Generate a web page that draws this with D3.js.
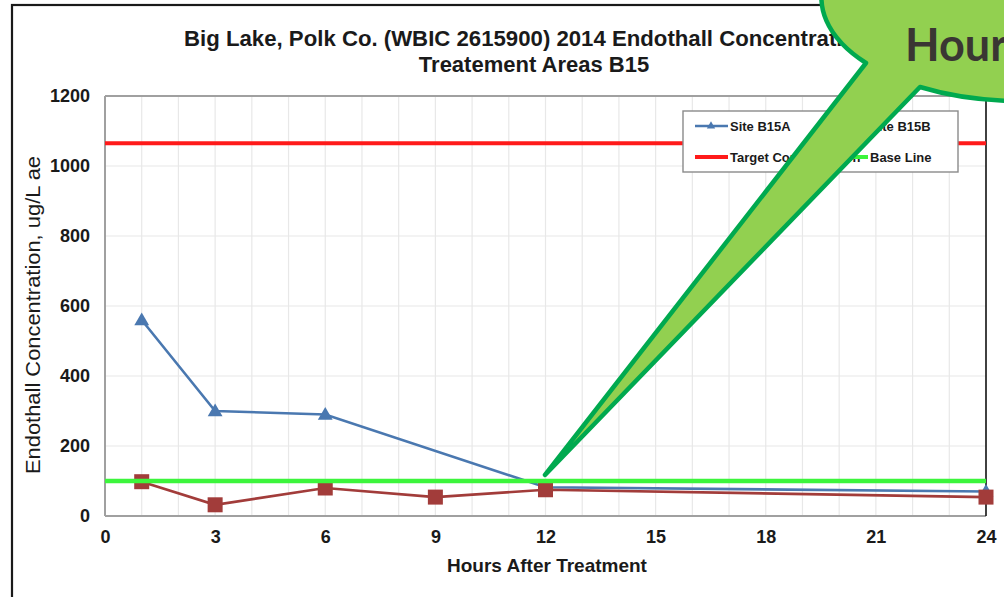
<!DOCTYPE html>
<html>
<head>
<meta charset="utf-8">
<script src="https://cdn.jsdelivr.net/npm/d3@7"></script>
<style>
  html, body { margin: 0; padding: 0; background: #fff; }
  svg { display: block; }
</style>
</head>
<body>
<svg id="chart" width="1004" height="597"></svg>
<script>
// ---- data ----
const hoursA = [1, 3, 6, 12, 24];
const siteB15A = [560, 300, 290, 82, 70];
const hoursB = [1, 3, 6, 9, 12, 24];
const siteB15B = [98, 32, 80, 54, 75, 54];
const targetConcentration = 1065;
const baseLine = 100;
const xTicks = [0, 3, 6, 9, 12, 15, 18, 21, 24];
const yTicks = [0, 200, 400, 600, 800, 1000, 1200];
const titleLines = ["Big Lake, Polk Co. (WBIC 2615900) 2014 Endothall Concentrations", "Treatement Areas B15"];
const legendItems = ["Site B15A", "Site B15B", "Target Concentration", "Base Line"];
const calloutText = "Hour";

const svg = d3.select("#chart");
const font = "'Liberation Sans', Arial, sans-serif";
const plot = { left: 105, right: 986, top: 96, bottom: 516 };

const x = d3.scaleLinear().domain([0, 24]).range([plot.left, plot.right]);
const y = d3.scaleLinear().domain([0, 1200]).range([plot.bottom, plot.top]);

// outer frame
svg.append("rect").attr("x", 12).attr("y", 5).attr("width", 1100).attr("height", 700)
  .attr("fill", "#fff").attr("stroke", "#1a1a1a").attr("stroke-width", 2.2);

// titles
svg.append("text").attr("x", 533).attr("y", 46).attr("text-anchor", "middle")
  .attr("font-family", font).attr("font-weight", "bold").attr("font-size", 22.2)
  .attr("fill", "#1a1a1a").text(titleLines[0]);
svg.append("text").attr("x", 534).attr("y", 72).attr("text-anchor", "middle")
  .attr("font-family", font).attr("font-weight", "bold").attr("font-size", 22)
  .attr("fill", "#1a1a1a").text(titleLines[1]);

// gridlines
const g = svg.append("g");
g.selectAll("line.vg").data(d3.range(1, 24)).join("line")
  .attr("x1", d => x(d)).attr("x2", d => x(d)).attr("y1", plot.top).attr("y2", plot.bottom)
  .attr("stroke", "#e8e8e8").attr("stroke-width", 1.2);
g.selectAll("line.hg").data(yTicks.filter(v => v > 0 && v < 1200)).join("line")
  .attr("x1", plot.left).attr("x2", plot.right).attr("y1", d => y(d)).attr("y2", d => y(d))
  .attr("stroke", "#e8e8e8").attr("stroke-width", 1.2);

// plot border
svg.append("line").attr("x1", plot.left).attr("x2", plot.right).attr("y1", plot.top).attr("y2", plot.top)
  .attr("stroke", "#a0a0a0").attr("stroke-width", 2);
svg.append("line").attr("x1", plot.left).attr("x2", plot.left).attr("y1", plot.top).attr("y2", plot.bottom)
  .attr("stroke", "#a0a0a0").attr("stroke-width", 2);
svg.append("line").attr("x1", plot.left).attr("x2", plot.right).attr("y1", plot.bottom).attr("y2", plot.bottom)
  .attr("stroke", "#a0a0a0").attr("stroke-width", 2);
svg.append("line").attr("x1", plot.right).attr("x2", plot.right).attr("y1", plot.top).attr("y2", plot.bottom)
  .attr("stroke", "#111").attr("stroke-width", 1.6);

// axes via d3
const xAxis = d3.axisBottom(x).tickValues(xTicks).tickSize(0).tickPadding(14).tickFormat(d3.format("d"));
const gx = svg.append("g").attr("transform", `translate(0,${plot.bottom})`).call(xAxis);
gx.select(".domain").remove();
gx.selectAll("text").attr("font-family", font).attr("font-weight", "bold").attr("font-size", 18).attr("fill", "#1a1a1a");

const yAxis = d3.axisLeft(y).tickValues(yTicks).tickSize(0).tickPadding(15).tickFormat(d3.format("d"));
const gy = svg.append("g").attr("transform", `translate(${plot.left},0)`).call(yAxis);
gy.select(".domain").remove();
gy.selectAll("text").attr("font-family", font).attr("font-weight", "bold").attr("font-size", 18).attr("fill", "#1a1a1a");

// axis titles
svg.append("text").attr("x", 547).attr("y", 572).attr("text-anchor", "middle")
  .attr("font-family", font).attr("font-weight", "bold").attr("font-size", 19).attr("fill", "#1a1a1a")
  .text("Hours After Treatment");
svg.append("text").attr("transform", "translate(40,315) rotate(-90)").attr("text-anchor", "middle")
  .attr("font-family", font).attr("font-size", 20).attr("fill", "#1a1a1a")
  .attr("textLength", 318).attr("lengthAdjust", "spacingAndGlyphs")
  .text("Endothall Concentration, ug/L ae");

// target line
svg.append("line").attr("x1", plot.left).attr("x2", plot.right)
  .attr("y1", y(targetConcentration)).attr("y2", y(targetConcentration))
  .attr("stroke", "#ff1a1a").attr("stroke-width", 4);

// series
const blue = "#4a78b0", red = "#a23c3a";
const line = d3.line().x(d => x(d[0])).y(d => y(d[1]));
const dataA = hoursA.map((h, i) => [h, siteB15A[i]]);
const dataB = hoursB.map((h, i) => [h, siteB15B[i]]);

svg.append("path").datum(dataA).attr("d", line).attr("fill", "none").attr("stroke", blue).attr("stroke-width", 2.6);
const tri = d3.symbol().type(d3.symbolTriangle).size(95);
svg.selectAll("path.tri").data(dataA).join("path")
  .attr("transform", d => `translate(${x(d[0])},${y(d[1]) + 1})`).attr("d", tri).attr("fill", blue);

svg.append("path").datum(dataB).attr("d", line).attr("fill", "none").attr("stroke", red).attr("stroke-width", 2.6);
svg.selectAll("rect.sq").data(dataB).join("rect")
  .attr("x", d => x(d[0]) - 7.5).attr("y", d => y(d[1]) - 7.5).attr("width", 15).attr("height", 15)
  .attr("fill", red);

// base line
svg.append("line").attr("x1", plot.left).attr("x2", plot.right)
  .attr("y1", y(baseLine)).attr("y2", y(baseLine))
  .attr("stroke", "#3cf53c").attr("stroke-width", 4.5);

// legend
const lg = svg.append("g");
lg.append("rect").attr("x", 683).attr("y", 111).attr("width", 275).attr("height", 61)
  .attr("fill", "#fff").attr("stroke", "#8a8a8a").attr("stroke-width", 1.4);
const legendPos = [
  { lx: 695, ly: 126, color: blue, w: 2.6, marker: "tri" },
  { lx: 835, ly: 126, color: red, w: 2.6, marker: "sq" },
  { lx: 695, ly: 157, color: "#ff1a1a", w: 4, marker: null },
  { lx: 835, ly: 157, color: "#3cf53c", w: 4, marker: null }
];
legendItems.forEach((name, i) => {
  const p = legendPos[i];
  lg.append("line").attr("x1", p.lx).attr("x2", p.lx + 33).attr("y1", p.ly).attr("y2", p.ly)
    .attr("stroke", p.color).attr("stroke-width", p.w);
  if (p.marker === "tri") {
    lg.append("path").attr("transform", `translate(${p.lx + 16},${p.ly})`)
      .attr("d", d3.symbol().type(d3.symbolTriangle).size(30)).attr("fill", p.color);
  } else if (p.marker === "sq") {
    lg.append("rect").attr("x", p.lx + 12).attr("y", p.ly - 4).attr("width", 8).attr("height", 8).attr("fill", p.color);
  }
  lg.append("text").attr("x", p.lx + 35).attr("y", p.ly + 5)
    .attr("font-family", font).attr("font-weight", "bold").attr("font-size", 13).attr("fill", "#1a1a1a")
    .text(name);
});

// callout bubble
const rx = 198, ry = 103;
const pA = [866, 63], pB = [920, 87], tip = [545, 475];
svg.append("path")
  .attr("d", `M${pA[0]},${pA[1]} L${tip[0]},${tip[1]} L${pB[0]},${pB[1]} A${rx},${ry} 0 1 0 ${pA[0]},${pA[1]} Z`)
  .attr("fill", "#92d050").attr("stroke", "#00a94f").attr("stroke-width", 4.5)
  .attr("stroke-linejoin", "round");
svg.append("text").attr("x", 905).attr("y", 61)
  .attr("font-family", "Lato, 'Open Sans', sans-serif").attr("font-weight", "bold").attr("font-size", 45)
  .attr("fill", "#3a3633").text(calloutText);
</script>
</body>
</html>
